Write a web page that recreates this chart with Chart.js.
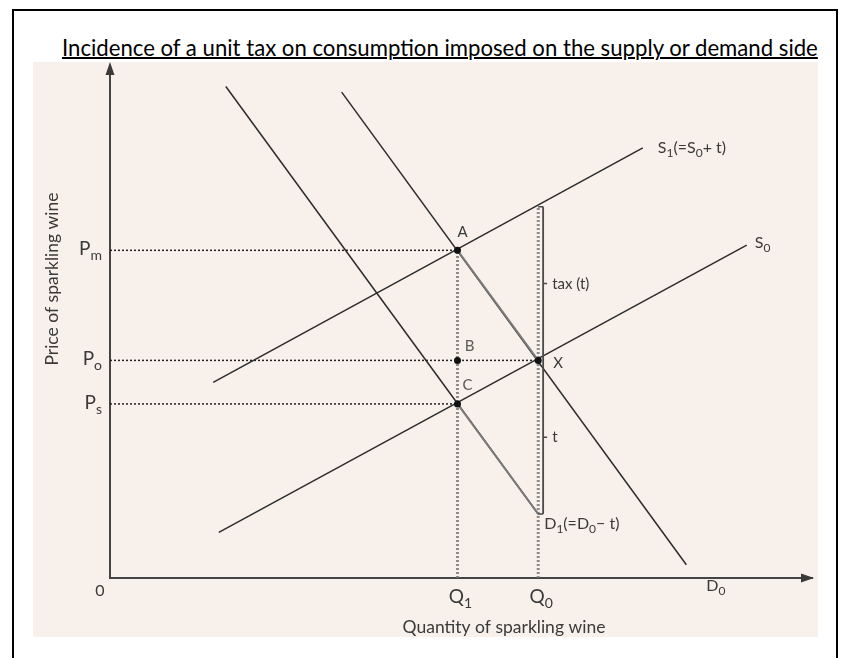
<!DOCTYPE html>
<html>
<head>
<meta charset="utf-8">
<script src="https://cdn.jsdelivr.net/npm/chart.js@4.4.1/dist/chart.umd.min.js"></script>
<style>
  html, body { margin: 0; padding: 0; background: #fff; width: 842px; height: 658px; overflow: hidden; }
  #moldura { position: absolute; left: 12px; top: 9px; width: 822px; height: 670px; border: 2px solid #000; }
  #titulo { position: absolute; left: 62px; top: 37px; font-family: Lato, sans-serif; text-decoration: underline; text-decoration-thickness: 1.5px; white-space: nowrap; color: #000; line-height: 1; }
  #papel { position: absolute; left: 33px; top: 62px; width: 785px; height: 575px; background: #f7f0eb; }
  #grafico { position: absolute; left: 33px; top: 62px; }
</style>
</head>
<body>
<div id="moldura"></div>
<div id="titulo">Incidence of a unit tax on consumption imposed on the supply or demand side</div>
<div id="papel"></div>
<canvas id="grafico" width="785" height="575"></canvas>
<script>
// DADOS (unidades do grafico: 0..100 nos dois eixos)
const precoRotulos = [['P', 'm'], ['P', 'o'], ['P', 's']]
const precoValores = [64, 42.5, 34]
const qtdRotulos = [['Q', '1'], ['Q', '0']]
const qtdValores = [49.5, 61]

const curvaS1 = [{x: 14.7, y: 38.2}, {x: 75.9, y: 84}]
const curvaS0 = [{x: 15.5, y: 8.9}, {x: 90.7, y: 65}]
const curvaD0 = [{x: 33, y: 94.9}, {x: 82.1, y: 2.6}]
const curvaD1 = [{x: 16.5, y: 96}, {x: 61, y: 12.5}]
const trechoD0 = [{x: 49.5, y: 64}, {x: 61, y: 42.5}]   // A ate X
const trechoD1 = [{x: 49.5, y: 34}, {x: 61, y: 12.5}]   // C ate o fim de D1
const imposto = [{x: 61.7, y: 72.5}, {x: 61.7, y: 42.5}, {x: 61.7, y: 12.5}]

const pontosRotulos = ['A', 'B', 'X', 'C']
const pontos = [{x: 49.5, y: 64}, {x: 49.5, y: 42.5}, {x: 61, y: 42.5}, {x: 49.5, y: 34}]

// TITULO
const titulo = document.getElementById('titulo')
titulo.style.fontSize = '20px'
const largTitulo = titulo.getBoundingClientRect().width
titulo.style.fontSize = (20 * 756 / largTitulo) + 'px'

// GRAFICO
const ctxGrafico = document.getElementById('grafico').getContext('2d')
const fonte = 'Lato, sans-serif'
const corTexto = '#3a3a3a'
const corLinha = '#2c2c2c'

function linha(dados, cor, largura, tracejado) {
    return {
        data: dados,
        showLine: true,
        borderColor: cor,
        borderWidth: largura,
        borderDash: tracejado || [],
        pointRadius: 0,
        fill: false,
        tension: 0
    }
}

function textoSub(ctx, partes, x, y, tam, alinhar) {
    // partes: [texto principal, subscrito, texto principal, ...]
    const fontes = [tam + 'px ' + fonte, Math.round(tam * 0.72) + 'px ' + fonte]
    let larg = 0
    partes.forEach(function(p, i) {
        ctx.font = fontes[i % 2]
        larg += ctx.measureText(p).width
    })
    let cx = alinhar === 'center' ? x - larg / 2 : alinhar === 'right' ? x - larg : x
    ctx.textAlign = 'left'
    ctx.textBaseline = 'alphabetic'
    partes.forEach(function(p, i) {
        ctx.font = fontes[i % 2]
        ctx.fillText(p, cx, i % 2 ? y + tam * 0.26 : y)
        cx += ctx.measureText(p).width
    })
}

const rotulosPlugin = {
    id: 'rotulos',
    afterDraw(chart) {
        const ctx = chart.ctx
        const area = chart.chartArea
        const sx = chart.scales.x
        const sy = chart.scales.y
        ctx.save()
        ctx.fillStyle = '#3a3a3a'

        // setas dos eixos
        const x0 = sx.getPixelForValue(0)
        const y0 = sy.getPixelForValue(0)
        ctx.beginPath()
        ctx.moveTo(x0, area.top - 4)
        ctx.lineTo(x0 - 4.5, area.top + 9)
        ctx.lineTo(x0 + 4.5, area.top + 9)
        ctx.closePath()
        ctx.fill()
        ctx.beginPath()
        ctx.moveTo(area.right + 2, y0)
        ctx.lineTo(area.right - 11, y0 - 4.5)
        ctx.lineTo(area.right - 11, y0 + 4.5)
        ctx.closePath()
        ctx.fill()

        ctx.fillStyle = corTexto
        // eixo y
        precoRotulos.forEach(function(r, i) {
            textoSub(ctx, r, x0 - 8, sy.getPixelForValue(precoValores[i]) + 5, 19, 'right')
        })
        // eixo x
        qtdRotulos.forEach(function(r, i) {
            textoSub(ctx, r, sx.getPixelForValue(qtdValores[i]) + 3, y0 + 25, 19, 'center')
        })
        textoSub(ctx, ['0'], x0 - 10, y0 + 18, 16, 'center')

        // titulos dos eixos
        ctx.font = '17.5px ' + fonte
        ctx.textAlign = 'center'
        ctx.textBaseline = 'middle'
        ctx.fillText('Quantity of sparkling wine', 471, 565)
        ctx.save()
        ctx.translate(19, 217)
        ctx.rotate(-Math.PI / 2)
        ctx.fillText('Price of sparkling wine', 0, 0)
        ctx.restore()

        // letras dos pontos
        const desloc = [[5, -13], [12, -9], [20, 8], [10, -14]]
        pontos.forEach(function(p, i) {
            ctx.fillStyle = (i === 1 || i === 3) ? '#5a5a5a' : corTexto
            textoSub(ctx, [pontosRotulos[i]], sx.getPixelForValue(p.x) + desloc[i][0], sy.getPixelForValue(p.y) + desloc[i][1], 15, 'center')
        })
        ctx.fillStyle = corTexto

        // chave do imposto
        const bx = sx.getPixelForValue(imposto[0].x)
        const bTopo = sy.getPixelForValue(imposto[0].y)
        const bMeio = sy.getPixelForValue(imposto[1].y)
        const bFim = sy.getPixelForValue(imposto[2].y)
        ctx.strokeStyle = '#4a4a4a'
        ctx.lineWidth = 1.5
        ctx.beginPath()
        ctx.moveTo(bx - 5, bTopo); ctx.lineTo(bx, bTopo)
        ctx.moveTo(bx - 5, bFim); ctx.lineTo(bx, bFim)
        ctx.moveTo(bx, (bTopo + bMeio) / 2); ctx.lineTo(bx + 4, (bTopo + bMeio) / 2)
        ctx.moveTo(bx, (bMeio + bFim) / 2); ctx.lineTo(bx + 4, (bMeio + bFim) / 2)
        ctx.stroke()
        textoSub(ctx, ['tax (t)'], bx + 9, (bTopo + bMeio) / 2 + 5, 15, 'left')
        textoSub(ctx, ['t'], bx + 9, (bMeio + bFim) / 2 + 5, 15, 'left')

        // nomes das curvas
        const fimS1 = curvaS1[1], fimS0 = curvaS0[1], fimD0 = curvaD0[1], fimD1 = curvaD1[1]
        textoSub(ctx, ['S', '1', '(=S', '0', '+ t)'], sx.getPixelForValue(fimS1.x) + 15, sy.getPixelForValue(fimS1.y) + 5, 16, 'left')
        textoSub(ctx, ['S', '0'], sx.getPixelForValue(fimS0.x) + 8, sy.getPixelForValue(fimS0.y) + 3, 16, 'left')
        textoSub(ctx, ['D', '0'], sx.getPixelForValue(fimD0.x) + 20, sy.getPixelForValue(fimD0.y) + 26, 16, 'left')
        textoSub(ctx, ['D', '1', '(=D', '0', '\u2212 t)'], sx.getPixelForValue(fimD1.x) + 6, sy.getPixelForValue(fimD1.y) + 15, 16, 'left')
        ctx.restore()
    }
}

const pontilhadoCinza = 'rgba(115,115,115,0.8)'

var dataDiagrama = {
    datasets: [
        {
            data: pontos,
            showLine: false,
            pointRadius: 3.5,
            pointBackgroundColor: '#111',
            pointBorderWidth: 0
        },
        linha(trechoD0, '#7a7a7a', 2),
        linha(trechoD1, '#7a7a7a', 2),
        linha(imposto, '#4a4a4a', 1.8),
        linha(curvaS1, corLinha, 1.5),
        linha(curvaS0, corLinha, 1.5),
        linha(curvaD0, corLinha, 1.5),
        linha(curvaD1, corLinha, 1.5),
        // linhas pontilhadas de preco
        linha([{x: 0, y: precoValores[0]}, {x: qtdValores[0], y: precoValores[0]}], '#222', 1.5, [2, 2]),
        linha([{x: 0, y: precoValores[1]}, {x: qtdValores[1], y: precoValores[1]}], '#222', 1.5, [2, 2]),
        linha([{x: 0, y: precoValores[2]}, {x: qtdValores[0], y: precoValores[2]}], '#222', 1.5, [2, 2]),
        // linhas pontilhadas de quantidade
        linha([{x: qtdValores[0], y: 0}, {x: qtdValores[0], y: precoValores[0]}], pontilhadoCinza, 3, [2, 2]),
        linha([{x: qtdValores[1], y: 0}, {x: qtdValores[1], y: imposto[0].y}], pontilhadoCinza, 3, [2, 2])
    ]
}

var eixo = {
    type: 'linear',
    min: 0,
    max: 100,
    grid: { display: false, drawTicks: false },
    ticks: { display: false },
    border: { display: true, color: '#444', width: 2 }
}

var diagrama = new Chart(ctxGrafico, {
    type: 'scatter',
    data: dataDiagrama,
    options: {
        responsive: false,
        animation: false,
        devicePixelRatio: 1,
        layout: { padding: { left: 77, top: 4, right: 6, bottom: 59 } },
        scales: {
            x: Object.assign({}, eixo, { position: 'bottom' }),
            y: Object.assign({}, eixo, { position: 'left' })
        },
        plugins: {
            legend: { display: false },
            tooltip: { enabled: false }
        }
    },
    plugins: [rotulosPlugin]
})
</script>
</body>
</html>
